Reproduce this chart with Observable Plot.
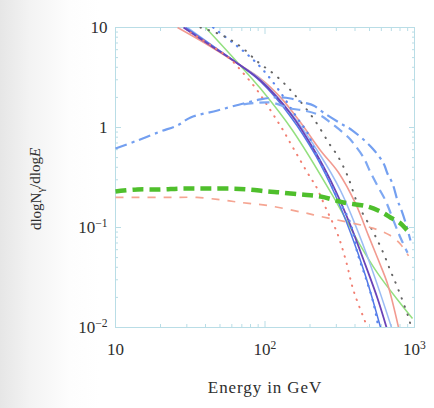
<!DOCTYPE html>
<html><head><meta charset="utf-8">
<script src="https://cdn.jsdelivr.net/npm/d3@7"></script>
<script src="https://cdn.jsdelivr.net/npm/@observablehq/plot@0.6"></script>
<style>
html,body{margin:0;padding:0;}
body{background:linear-gradient(to right,#e6e6e6 0px,#f3f3f3 30px,#fdfdfd 70px,#ffffff 100px);width:434px;height:408px;overflow:hidden;}
#chart svg text{font-family:"Liberation Serif","Times New Roman",serif !important;}
</style></head><body><div id="chart"></div>
<script>
// ---- axes ----
const xTicks = [10, 100, 1000];
const yTicks = [0.01, 0.1, 1, 10];
const xMinor = [20,30,40,50,60,70,80,90,200,300,400,500,600,700,800,900];
const yMinor = [0.02,0.03,0.04,0.05,0.06,0.07,0.08,0.09,0.2,0.3,0.4,0.5,0.6,0.7,0.8,0.9,2,3,4,5,6,7,8,9];
const xTitle = "Energy in GeV";

// ---- series (energy in GeV, dlogN/dlogE) ----
const greenDashE = [10, 14, 20, 27, 35, 45, 60, 78, 104, 127, 173, 235, 335, 485, 611, 690, 806, 898, 950];
const greenDashV = [0.229, 0.240, 0.240, 0.245, 0.245, 0.245, 0.245, 0.240, 0.229, 0.224, 0.214, 0.204, 0.178, 0.162, 0.141, 0.126, 0.110, 0.093, 0.087];

const redDashE = [10, 14, 20, 26, 35, 48, 61.5, 78, 104, 181, 235, 532, 690, 806, 912];
const redDashV = [0.200, 0.200, 0.200, 0.200, 0.200, 0.191, 0.182, 0.174, 0.166, 0.141, 0.129, 0.098, 0.083, 0.068, 0.052];

const blueDashDotE = [10, 14, 20, 26, 31.8, 48.1, 71.8, 93.3, 118, 148, 181, 211, 246, 320, 385, 524, 621, 659, 713, 770, 806, 871, 940];
const blueDashDotV = [0.617, 0.741, 0.912, 1.05, 1.26, 1.48, 1.74, 1.91, 2.0, 1.95, 1.78, 1.66, 1.41, 1.10, 0.933, 0.617, 0.437, 0.347, 0.275, 0.186, 0.158, 0.112, 0.074];

const blueDashE = [71.8, 109, 148, 181, 235, 274, 362, 391, 456, 508, 574, 640, 724, 806, 898];
const blueDashV = [1.70, 1.78, 1.55, 1.48, 1.32, 1.12, 0.794, 0.692, 0.501, 0.355, 0.251, 0.186, 0.117, 0.079, 0.056];

const greyDotE = [37, 52, 68.6, 90.5, 118, 153, 211, 274, 305, 356, 416, 532, 621, 690, 770, 912, 960];
const greyDotV = [10, 8.32, 6.46, 4.47, 3.31, 2.24, 1.23, 0.661, 0.525, 0.331, 0.174, 0.089, 0.055, 0.037, 0.0251, 0.0126, 0.0095];

const blueDotE = [45, 60.6, 77.6, 97.7, 127, 165, 192, 218, 246, 305, 373, 416, 470, 532, 574];
const blueDotV = [10, 7.08, 5.25, 3.72, 2.24, 1.23, 0.891, 0.562, 0.389, 0.20, 0.110, 0.055, 0.032, 0.0174, 0.010];

const redDotE = [31.8, 57, 71.8, 88.9, 109, 130, 155, 201, 218, 258, 305, 347, 391, 470, 492];
const redDotV = [8.9, 5.0, 3.47, 2.34, 1.48, 0.977, 0.617, 0.316, 0.263, 0.151, 0.087, 0.047, 0.0234, 0.0112, 0.0093];

const redSolidE = [26, 40, 65.5, 93.3, 127, 173, 235, 310, 403, 492, 574, 659, 782];
const redSolidV = [10, 6.92, 4.37, 3.09, 2.0, 1.12, 0.589, 0.355, 0.174, 0.083, 0.047, 0.0275, 0.010];

const purpleSolidE = [28.5, 43.2, 65.5, 93.3, 148, 218, 296, 373, 470, 566, 650];
const purpleSolidV = [10, 6.61, 4.37, 2.95, 1.38, 0.562, 0.234, 0.105, 0.042, 0.0195, 0.010];

const blueSolidE = [29.4, 65.5, 93.3, 148, 218, 296, 373, 470, 593];
const blueSolidV = [10, 4.37, 2.88, 1.29, 0.525, 0.209, 0.089, 0.033, 0.010];

const lightBlueSolidE = [30.3, 65.5, 93.3, 148, 235, 320, 403, 508, 702];
const lightBlueSolidV = [10, 4.37, 3.02, 1.41, 0.525, 0.234, 0.105, 0.042, 0.010];

const greenSolidE = [40, 65.5, 93.3, 153, 283, 416, 566, 806, 970];
const greenSolidV = [10, 4.47, 2.45, 0.933, 0.209, 0.074, 0.035, 0.0174, 0.0123];

// ---- styles ----
const series = [
  {E: greenSolidE, V: greenSolidV, stroke: "#93e07f", w: 1.5, dash: null},
  {E: redSolidE, V: redSolidV, stroke: "#f29a90", w: 1.6, dash: null},
  {E: lightBlueSolidE, V: lightBlueSolidV, stroke: "#9bbcf4", w: 1.5, dash: null},
  {E: blueSolidE, V: blueSolidV, stroke: "#5277e6", w: 1.5, dash: null},
  {E: purpleSolidE, V: purpleSolidV, stroke: "#6a43b8", w: 1.8, dash: null},
  {E: redDotE, V: redDotV, stroke: "#f27f72", w: 2, dash: "0.5,7", cap: "round"},
  {E: blueDotE, V: blueDotV, stroke: "#5a86ee", w: 2.2, dash: "0.5,7", cap: "round"},
  {E: greyDotE, V: greyDotV, stroke: "#666666", w: 2, dash: "0.5,8", cap: "round"},
  {E: redDashE, V: redDashV, stroke: "#f5a592", w: 1.7, dash: "8,8"},
  {E: blueDashE, V: blueDashV, stroke: "#7ea8f2", w: 2.2, dash: "10,6"},
  {E: blueDashDotE, V: blueDashDotV, stroke: "#739ff0", w: 2.2, dash: "12,5,3,5"},
  {E: greenDashE, V: greenDashV, stroke: "#4fbf2c", w: 4.5, dash: "11,6"}
];

const lineMarks = series.map(s => Plot.line(s.E.map((e, i) => ({E: e, V: s.V[i]})), {
  x: "E", y: "V", stroke: s.stroke, strokeWidth: s.w,
  strokeDasharray: s.dash, strokeLinecap: s.cap || "butt",
  curve: "catmull-rom", clip: true
}));

const serif = "'Liberation Serif','Times New Roman',serif";
const frameColor = "#b9dde6";
const fmt = d => d === 10 ? "10" : d === 1 ? "1" : "10^" + Math.round(Math.log10(d));

const svg = Plot.plot({
  width: 434, height: 408,
  marginLeft: 115, marginRight: 20, marginTop: 27, marginBottom: 81,
  style: {background: "transparent", fontFamily: serif, fontSize: "17px", color: "#2e2e2e"},
  x: {type: "log", domain: [10, 1000]},
  y: {type: "log", domain: [0.01, 10]},
  marks: [
    Plot.frame({stroke: frameColor, strokeWidth: 1}),
    Plot.axisX(xMinor, {anchor: "bottom", tickSize: -3, stroke: frameColor, fill: "none", label: null}),
    Plot.axisX(xMinor, {anchor: "top", tickSize: -3, stroke: frameColor, fill: "none", label: null}),
    Plot.axisY(yMinor, {anchor: "left", tickSize: -3, stroke: frameColor, fill: "none", label: null}),
    Plot.axisY(yMinor, {anchor: "right", tickSize: -3, stroke: frameColor, fill: "none", label: null}),
    Plot.axisX(xTicks, {anchor: "bottom", tickSize: -6, stroke: frameColor, fill: "none", label: null}),
    Plot.axisX(xTicks, {anchor: "top", tickSize: -6, stroke: frameColor, fill: "none", label: null}),
    Plot.axisY(yTicks, {anchor: "left", tickSize: -6, stroke: frameColor, fill: "none", label: null}),
    Plot.axisY(yTicks, {anchor: "right", tickSize: -6, stroke: frameColor, fill: "none", label: null}),
    Plot.axisX(xTicks, {anchor: "bottom", tickSize: 0, tickPadding: 15, tickFormat: fmt, label: null, fill: "#2e2e2e", fontFamily: serif}),
    Plot.axisY(yTicks, {anchor: "left", tickSize: 0, tickPadding: 8, tickFormat: fmt, label: null, fill: "#2e2e2e", fontFamily: serif}),
    ...lineMarks
  ]
});

const s = d3.select(svg);
s.attr("font-family", serif).style("font-family", serif);

// superscripts
s.selectAll("text").each(function () {
  const m = /^10\^(-?\d+)$/.exec(this.textContent);
  if (!m) return;
  const target = this.querySelector("tspan") || this;
  target.textContent = "10";
  const sup = document.createElementNS("http://www.w3.org/2000/svg", "tspan");
  sup.setAttribute("dy", "-0.5em");
  sup.setAttribute("font-size", "0.68em");
  sup.textContent = m[1].replace("-", "\u2212");
  target.appendChild(sup);
});

s.append("text")
  .attr("x", 265).attr("y", 393)
  .attr("text-anchor", "middle")
  .attr("font-family", serif)
  .attr("font-size", 17).attr("letter-spacing", 0.9)
  .attr("fill", "#2e2e2e")
  .text(xTitle);

const yl = s.append("text")
  .attr("transform", "translate(41,189) rotate(-90)")
  .attr("text-anchor", "middle")
  .attr("font-family", serif)
  .attr("font-size", 15)
  .attr("fill", "#2e2e2e");
yl.append("tspan").text("dlogN");
yl.append("tspan").attr("dy", "0.3em").attr("font-size", "0.7em").text("\u03b3");
yl.append("tspan").attr("dy", "-0.3em").text("/dlog");
yl.append("tspan").attr("font-style", "italic").text("E");

document.getElementById("chart").appendChild(svg);
</script>
</body></html>
